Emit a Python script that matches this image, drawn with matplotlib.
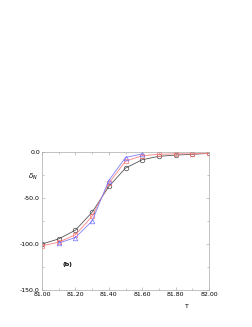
import matplotlib
matplotlib.use("Agg")
import matplotlib.pyplot as plt
from matplotlib.ticker import MultipleLocator, FormatStrFormatter

T = [81.0, 81.1, 81.2, 81.3, 81.4, 81.5, 81.6, 81.7, 81.8, 81.9, 82.0]
delta_black = [-100, -94.5, -85, -65.5, -37.5, -17.5, -8.4, -4.7, -3.3, -2.5, -1.5]
delta_red = [-102, -98, -90, -70, -34, -10, -4, -2.5, -2, -2, -1.5]
T_blue = [81.1, 81.2, 81.3, 81.4, 81.5, 81.6]
delta_blue = [-99, -93, -75, -31, -6, -2]

fig = plt.figure(figsize=(2.53, 3.27), dpi=100)
ax = fig.add_axes([42/253, 1 - 290/327, (209-42)/253, (290-152)/327])

ax.plot(T, delta_black, color='#555555', lw=0.6, marker='o', ms=3.3,
        mfc='none', mec='#444444', mew=0.5)
ax.plot(T, delta_red, color='#ff8080', lw=0.6, marker='s', ms=3.1,
        mfc='none', mec='#ff7070', mew=0.5)
ax.plot(T_blue, delta_blue, color='#8080ff', lw=0.6, marker='^', ms=3.3,
        mfc='none', mec='#7070ff', mew=0.5)

ax.set_xlim(81.0, 82.0)
ax.set_ylim(-150, 0)
ax.xaxis.set_major_locator(MultipleLocator(0.2))
ax.xaxis.set_minor_locator(MultipleLocator(0.1))
ax.yaxis.set_major_locator(MultipleLocator(50))
ax.yaxis.set_minor_locator(MultipleLocator(25))
ax.xaxis.set_major_formatter(FormatStrFormatter('%.2f'))
ax.yaxis.set_major_formatter(FormatStrFormatter('%.1f'))
ax.tick_params(which='both', direction='in', top=True, right=True,
               labelsize=4.5, color='#999999', width=0.4, pad=1.5)
ax.tick_params(which='major', length=2)
ax.tick_params(which='minor', length=1.2)
for s in ax.spines.values():
    s.set_color('#aaaaaa')
    s.set_linewidth(0.5)

fig.text(28/253, 1 - 177/327, r'$\delta_N$', fontsize=5, ha='left', va='center')
fig.text(187/253, 1 - 306/327, 'T', fontsize=4.5, ha='center', va='center')
ax.text(81.15, -122, '(b)', fontsize=4.5, fontweight='bold', ha='center', va='center')

fig.savefig('out.png', dpi=100)
